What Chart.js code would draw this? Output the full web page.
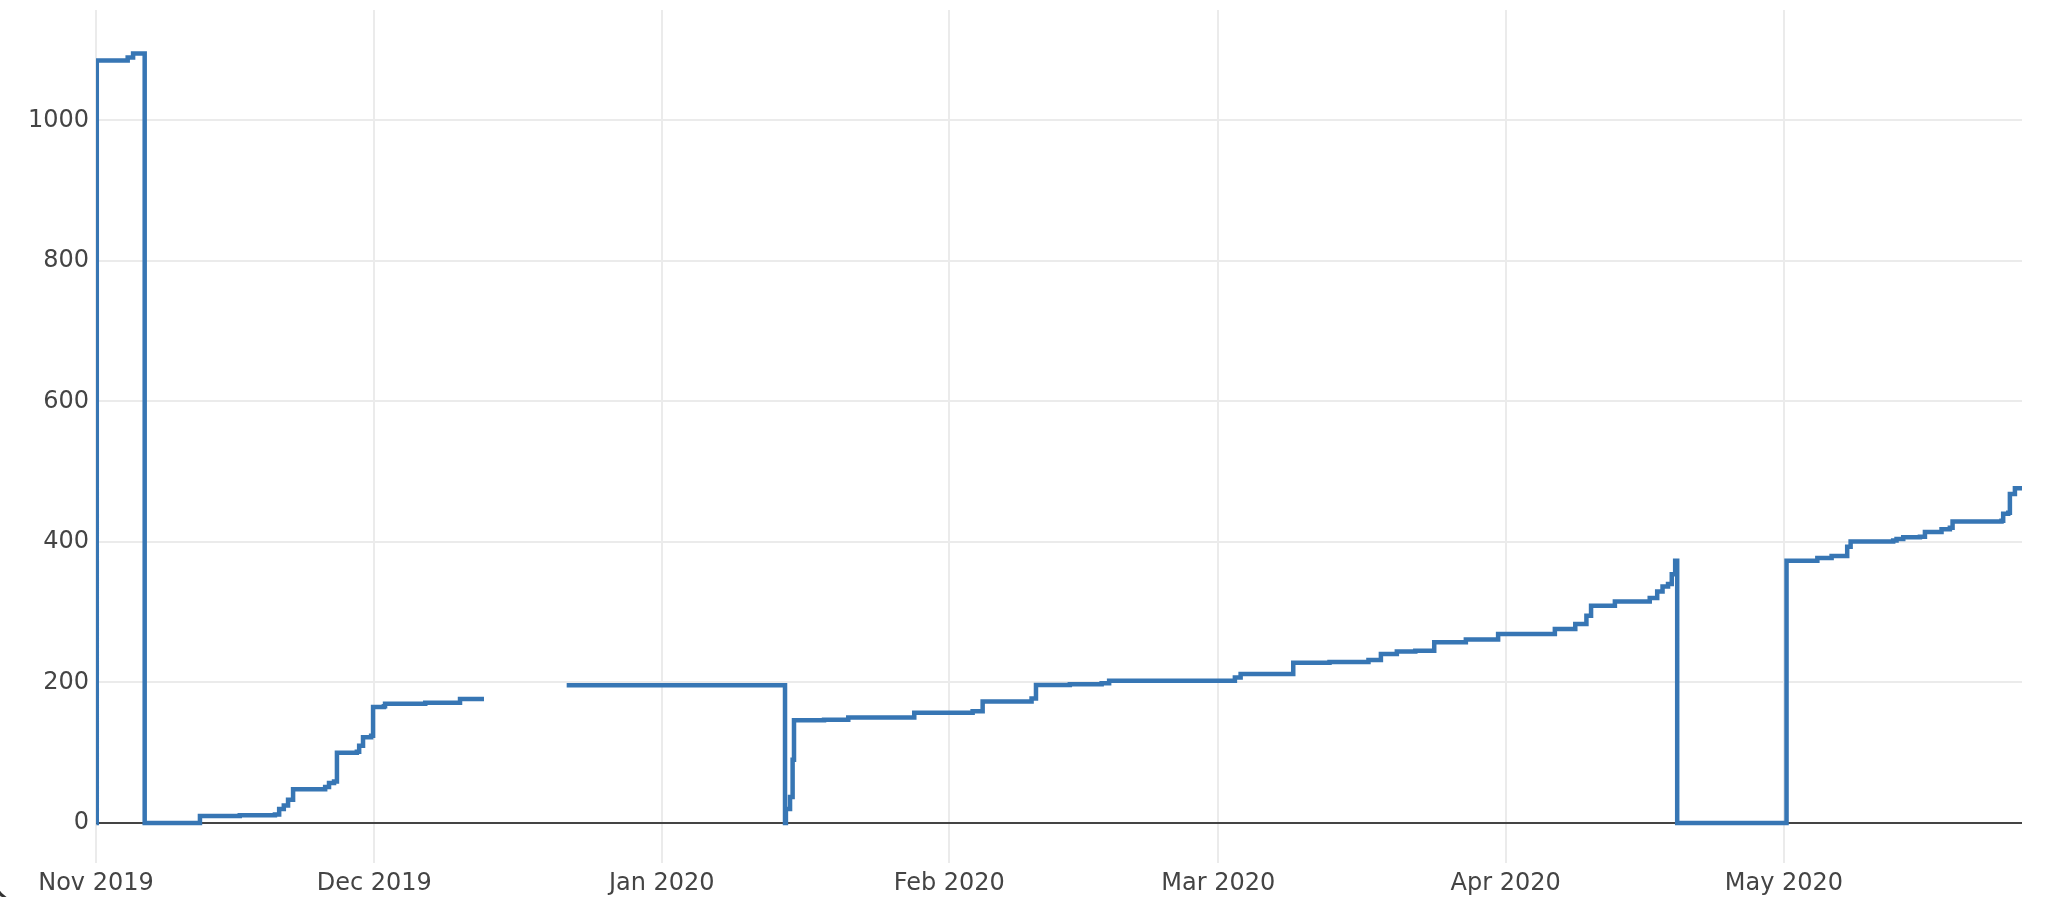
<!DOCTYPE html>
<html>
<head>
<meta charset="utf-8">
<script src="https://cdn.jsdelivr.net/npm/chart.js@4.4.1/dist/chart.umd.min.js"></script>
<style>
  html, body { margin: 0; padding: 0; background: #fff; overflow: hidden; }
  #wrap { position: relative; width: 2048px; height: 897px; }
  #corner { position: absolute; left: -8px; top: 608px; width: 300px; height: 297px;
            border-left: 3px solid #333; border-bottom: 3px solid #333; border-bottom-left-radius: 30px;
            box-sizing: border-box; pointer-events: none; }
</style>
</head>
<body>
<div id="wrap">
  <canvas id="c"></canvas>
  <div id="corner"></div>
</div>
<script>
// ---- data ----
const times = [
  '2019-11-01 01:00','2019-11-01 02:00','2019-11-04 10:00','2019-11-05 00:00','2019-11-06 06:00',
  '2019-11-12 05:00','2019-11-16 12:00','2019-11-20 07:00','2019-11-20 18:00','2019-11-21 06:00',
  '2019-11-21 17:00','2019-11-22 06:00','2019-11-25 17:00','2019-11-26 03:00','2019-11-26 16:00',
  '2019-11-26 23:30','2019-11-29 03:00','2019-11-29 09:00','2019-11-29 19:00','2019-11-30 16:00',
  '2019-11-30 21:00','2019-12-02 01:00','2019-12-02 04:00','2019-12-06 12:00','2019-12-10 06:00',
  '2019-12-12 20:00','2019-12-16 00:00',
  '2019-12-21 18:00','2020-01-14 07:00','2020-01-14 09:20','2020-01-14 20:00','2020-01-15 02:40',
  '2020-01-15 06:15','2020-01-18 12:00','2020-01-21 02:40','2020-01-28 05:30','2020-02-03 12:30',
  '2020-02-04 14:25','2020-02-09 21:00','2020-02-10 08:25','2020-02-14 00:00','2020-02-17 10:20',
  '2020-02-18 05:45','2020-03-02 19:10','2020-03-03 10:00','2020-03-09 02:10','2020-03-13 00:00',
  '2020-03-17 04:50','2020-03-18 13:00','2020-03-20 06:15','2020-03-22 06:00','2020-03-24 07:00',
  '2020-03-27 16:50','2020-03-31 04:20','2020-04-06 07:10','2020-04-08 12:00','2020-04-09 16:50',
  '2020-04-10 04:50','2020-04-12 18:30','2020-04-16 12:40','2020-04-17 08:00','2020-04-17 21:50',
  '2020-04-18 12:00','2020-04-18 21:40','2020-04-19 06:30','2020-04-19 11:45',
  '2020-05-01 06:40','2020-05-04 14:25','2020-05-06 03:20','2020-05-07 19:40','2020-05-08 04:30',
  '2020-05-12 18:40','2020-05-13 03:20','2020-05-13 20:40','2020-05-15 15:50','2020-05-16 04:50',
  '2020-05-17 23:45','2020-05-18 21:20','2020-05-19 04:20','2020-05-24 11:00','2020-05-24 15:20',
  '2020-05-25 04:20','2020-05-25 08:40','2020-05-25 21:40','2020-05-26 14:50'
];
const values = [
  0, 1085, 1089.5, 1095, 0,
  10, 11, 12, 20, 25,
  33, 48, 51, 57, 59,
  100, 101.5, 110, 122, 124,
  165, 166, 169.5, 171, 176.5,
  176.5, null,
  196, 0, 20, 37, 90,
  146, 147, 150, 157, 159,
  173, 177, 196.5, 197.5, 199,
  202.5, 207, 212, 228, 229,
  232, 240.5, 244, 245, 257,
  261, 269, 276, 283, 295,
  309, 315, 320, 329.5, 336.6,
  340, 354, 373, 0,
  373, 377, 380, 393, 400.6,
  402, 404, 406.5, 407.5, 414,
  418, 420, 429, 430, 440,
  441.5, 468, 476.5, 479.6
];
const monthTicks  = ['2019-11-01','2019-12-01','2020-01-01','2020-02-01','2020-03-01','2020-04-01','2020-05-01'];
const monthLabels = ['Nov 2019','Dec 2019','Jan 2020','Feb 2020','Mar 2020','Apr 2020','May 2020'];
const yTicks = [0, 200, 400, 600, 800, 1000];
const xStart = '2019-11-01 00:00';
const xEnd   = '2020-05-26 16:00';
const yMin = -57, yMax = 1157;

function ts(s) {
  const parts = s.split(' ');
  const d = parts[0].split('-').map(Number);
  const t = (parts[1] || '00:00').split(':').map(Number);
  return Date.UTC(d[0], d[1] - 1, d[2], t[0], t[1]);
}

const points = times.map((t, i) => ({ x: ts(t), y: values[i] }));
const tickVals = monthTicks.map(ts);

const FONT = { family: '"DejaVu Sans", Verdana, sans-serif', size: 24 };

new Chart(document.getElementById('c'), {
  type: 'line',
  data: {
    datasets: [{
      data: points,
      borderColor: '#3776b4',
      borderWidth: 4.5,
      pointRadius: 0,
      stepped: 'before',
      spanGaps: false,
      fill: false
    }]
  },
  options: {
    responsive: true,
    maintainAspectRatio: false,
    animation: false,
    events: [],
    layout: { padding: { top: 10, right: 26, left: 0, bottom: 0 } },
    plugins: { legend: { display: false }, tooltip: { enabled: false } },
    scales: {
      x: {
        type: 'linear',
        min: ts(xStart),
        max: ts(xEnd),
        afterBuildTicks: (s) => { s.ticks = tickVals.map(v => ({ value: v })); },
        afterFit: (s) => { s.height = 34; },
        grid: { color: '#ebebeb', lineWidth: 2, drawTicks: false, z: -2 },
        border: { display: false },
        ticks: {
          autoSkip: false, maxRotation: 0, padding: 6, color: '#444', font: FONT,
          callback: (v) => { const i = tickVals.indexOf(v); return i >= 0 ? monthLabels[i] : ''; }
        }
      },
      y: {
        type: 'linear',
        min: yMin,
        max: yMax,
        afterBuildTicks: (s) => { s.ticks = yTicks.map(v => ({ value: v })); },
        afterFit: (s) => { s.width = 96; s.paddingTop = 0; s.paddingBottom = 0; },
        grid: {
          drawTicks: false, z: -1,
          color: (c) => (c.tick && c.tick.value === 0) ? '#444' : '#ebebeb',
          lineWidth: 2
        },
        border: { display: false },
        ticks: { padding: 7, color: '#444', font: FONT, callback: (v) => String(v) }
      }
    }
  }
});
</script>
</body>
</html>
